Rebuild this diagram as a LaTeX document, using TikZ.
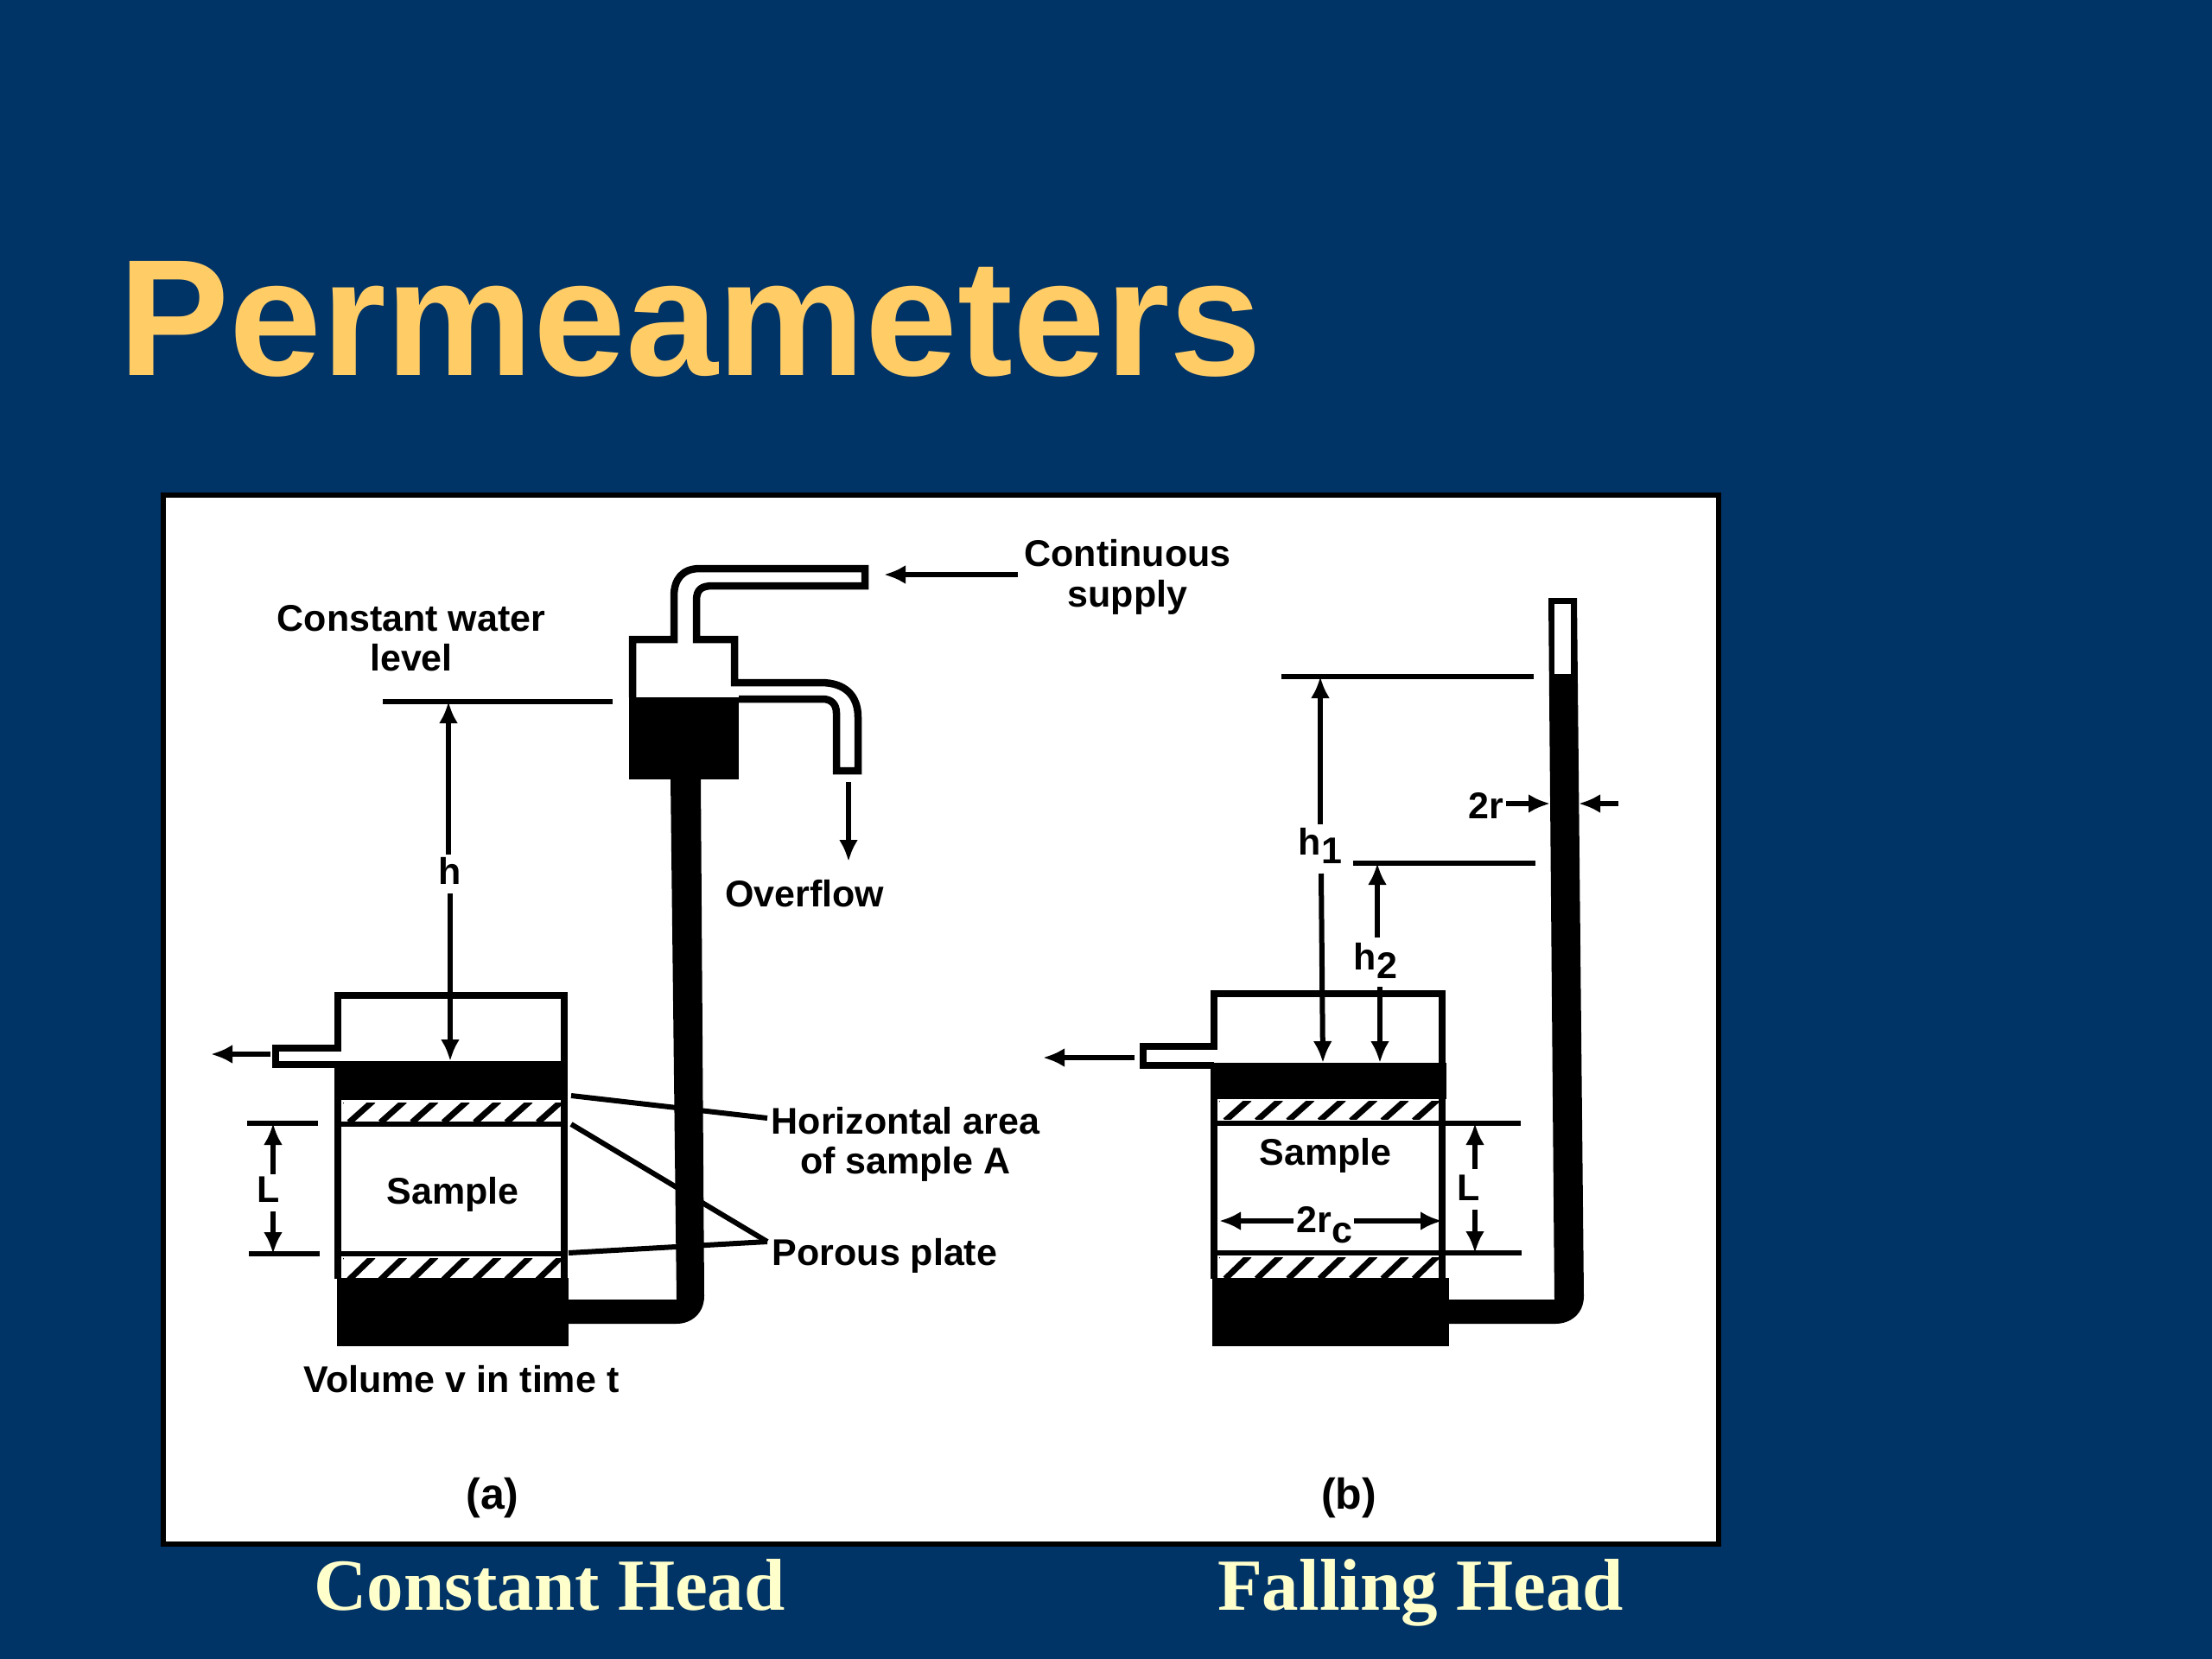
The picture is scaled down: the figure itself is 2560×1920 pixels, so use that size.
\documentclass[tikz,border=0pt]{standalone}
\usepackage{fontspec}
\setmainfont{Liberation Sans}
\newfontfamily\capfont{Liberation Serif}
\usetikzlibrary{arrows.meta}
\definecolor{slidebg}{RGB}{0,51,102}
\definecolor{titlecol}{RGB}{255,204,102}
\definecolor{capcol}{RGB}{255,255,204}
\newcommand{\lab}{\fontsize{43}{50}\selectfont\bfseries}
\newcommand{\plate}[4]{%
  \fill[white] (#1,#3) rectangle (#2,#4);
  \begin{scope}
    \clip (#1,#3) rectangle (#2,#4);
    \foreach \i in {-1,...,8} {\draw[line width=7pt] ({#1+7+\i*36.4},#4+2) -- ({#1+35+\i*36.4},#3-2);}
  \end{scope}}
\tikzset{
  wall/.style={line width=8.5pt,line join=miter},
  thin line/.style={line width=6pt},
  dimarrow/.style={line width=6pt,-{Latex[length=25pt,width=22pt]}},
  txt/.style={font=\lab,inner sep=3pt,text=black},
  panel label/.style={font=\fontsize{50}{56}\selectfont\bfseries,inner sep=3pt,text=black},
  caption text/.style={text=capcol,anchor=base,inner sep=0,font=\capfont\fontsize{85}{92}\selectfont\bfseries},
}
\begin{document}
\begin{tikzpicture}[x=1pt,y=-1pt]
\useasboundingbox (0,0) rectangle (2560,1920);
\fill[slidebg] (0,0) rectangle (2560,1920);
\node[anchor=base west,inner sep=0,text=titlecol,font=\fontsize{192}{200}\selectfont\bfseries] (title) at (137,434) {Permeameters};
\fill[white,draw=black,line width=6pt] (189,573) rectangle (1989,1787);
\node[caption text] (capa) at (636,1863) {Constant Head};
\node[caption text] (capb) at (1644,1863) {Falling Head};

% --- (a) constant head ---
\fill[black] (657,1504) -- (783,1504) -- (776,900) -- (811,900) -- (815,1500) .. controls (815,1520) and (800,1532) .. (783,1532) -- (657,1532) -- cycle;
\fill[black] (728,807) rectangle (855,902);
\draw[wall] (732,807) -- (732,740) -- (780,740) -- (780,690) .. controls (780,670) and (790,658) .. (810,658) -- (1001,658) -- (1001,678) -- (825,678) .. controls (812,678) and (806,682) .. (806,695) -- (806,740) -- (850,740) -- (850,790) -- (950,790) .. controls (978,790) and (993,805) .. (993,830) -- (993,892) -- (968,892) -- (968,825) .. controls (968,815) and (962,809) .. (952,809) -- (855,809);
\draw[wall] (391,1232) -- (319,1232) -- (319,1213) -- (391,1213) -- (391,1152) -- (653,1152) -- (653,1480);
\draw[wall] (391,1232) -- (391,1480);
\fill[black] (387,1228) rectangle (657,1273);
\plate{397}{649}{1276}{1297}
\draw[thin line] (391,1301) -- (653,1301);
\draw[thin line] (391,1451) -- (653,1451);
\plate{397}{649}{1456}{1479}
\fill[black] (390,1479) rectangle (658,1558);

\coordinate (wl0) at (443,812); \coordinate (wl1) at (709,812);
\draw[thin line] (wl0) -- (wl1);
\node[txt] (cwl) at (476,716) {Constant water};
\node[txt] (cwl2) at (476,761) {level};
\node[txt] (ha) at (521,1008) {h};
\coordinate (hatop) at (519,812); \coordinate (habot) at (521,1228);
\draw[dimarrow] (519,989) -- (hatop);
\draw[dimarrow] (521,1034) -- (habot);
\node[txt] (supply) at (1305,640) {Continuous};
\node[txt] (supply2) at (1305,691) {supply};
\coordinate (intip) at (1023,665);
\draw[dimarrow] (1178,665) -- (intip);
\coordinate (ovtop) at (982,905);
\node[txt] (overflow) at (931,1034) {Overflow};
\draw[dimarrow] (ovtop) -- (982,997);
\coordinate (outa0) at (313,1220); \coordinate (outa1) at (244,1220);
\draw[dimarrow] (outa0) -- (outa1);
\draw[thin line] (286,1300) -- (368,1300);
\draw[thin line] (288,1451) -- (370,1451);
\node[txt] (la) at (311,1377) {L};
\draw[dimarrow] (316,1359) -- (316,1300);
\draw[dimarrow] (316,1402) -- (316,1451);
\node[txt] (samplea) at (524,1382) {Sample};
\node[txt] (horiz) at (1048,1297) {Horizontal area};
\node[txt] (horiz2) at (1048,1347) {of sample A};
\node[txt] (porous) at (1024,1453) {Porous plate};
\coordinate (pj) at (888,1437);
\draw[thin line] (661,1268) -- (888,1294);
\draw[thin line] (661,1301) -- (pj);
\draw[thin line] (658,1450) -- (pj);
\node[txt] (vol) at (534,1596) {Volume v in time t};
\node[panel label] (a) at (570,1734) {(a)};
\node[panel label] (b) at (1561,1734) {(b)};

% --- (b) falling head ---
\fill[black] (1677,1504) -- (1799,1504) -- (1792,692) -- (1825,692) -- (1833,1500) .. controls (1833,1520) and (1818,1532) .. (1800,1532) -- (1677,1532) -- cycle;
\fill[white] (1799,699) rectangle (1818,780);
\draw[wall] (1405,1233) -- (1323,1233) -- (1323,1211) -- (1405,1211) -- (1405,1150) -- (1669,1150) -- (1669,1480);
\draw[wall] (1405,1233) -- (1405,1480);
\fill[black] (1401,1230) rectangle (1674,1272);
\plate{1411}{1665}{1274}{1295}
\draw[thin line] (1405,1300) -- (1760,1300);
\draw[thin line] (1405,1450) -- (1761,1450);
\plate{1411}{1665}{1455}{1478}
\fill[black] (1403,1479) rectangle (1677,1558);
\draw[thin line] (1483,783) -- (1775,783);
\draw[thin line] (1566,999) -- (1777,999);
\node[txt] (h1) at (1528,979) {h\raisebox{-10pt}{1}};
\draw[dimarrow] (1528,954) -- (1528,783);
\draw[dimarrow] (1529,1011) -- (1531,1230);
\node[txt] (h2) at (1592,1112) {h\raisebox{-10pt}{2}};
\draw[dimarrow] (1594,1085) -- (1594,999);
\draw[dimarrow] (1597,1142) -- (1597,1230);
\node[txt] (tr) at (1720,932) {2r};
\draw[dimarrow] (1743,930) -- (1794,930);
\draw[dimarrow] (1873,930) -- (1827,930);
\node[txt] (lb) at (1700,1375) {L};
\draw[dimarrow] (1707,1353) -- (1707,1300);
\draw[dimarrow] (1707,1400) -- (1707,1450);
\node[txt] (sampleb) at (1534,1337) {Sample};
\node[txt] (trc) at (1533,1418) {2r\raisebox{-12pt}{c}};
\draw[dimarrow] (1497,1413) -- (1411,1413);
\draw[dimarrow] (1567,1413) -- (1669,1413);
\coordinate (outb0) at (1313,1224); \coordinate (outb1) at (1207,1224);
\draw[dimarrow] (outb0) -- (outb1);
\end{tikzpicture}
\end{document}
